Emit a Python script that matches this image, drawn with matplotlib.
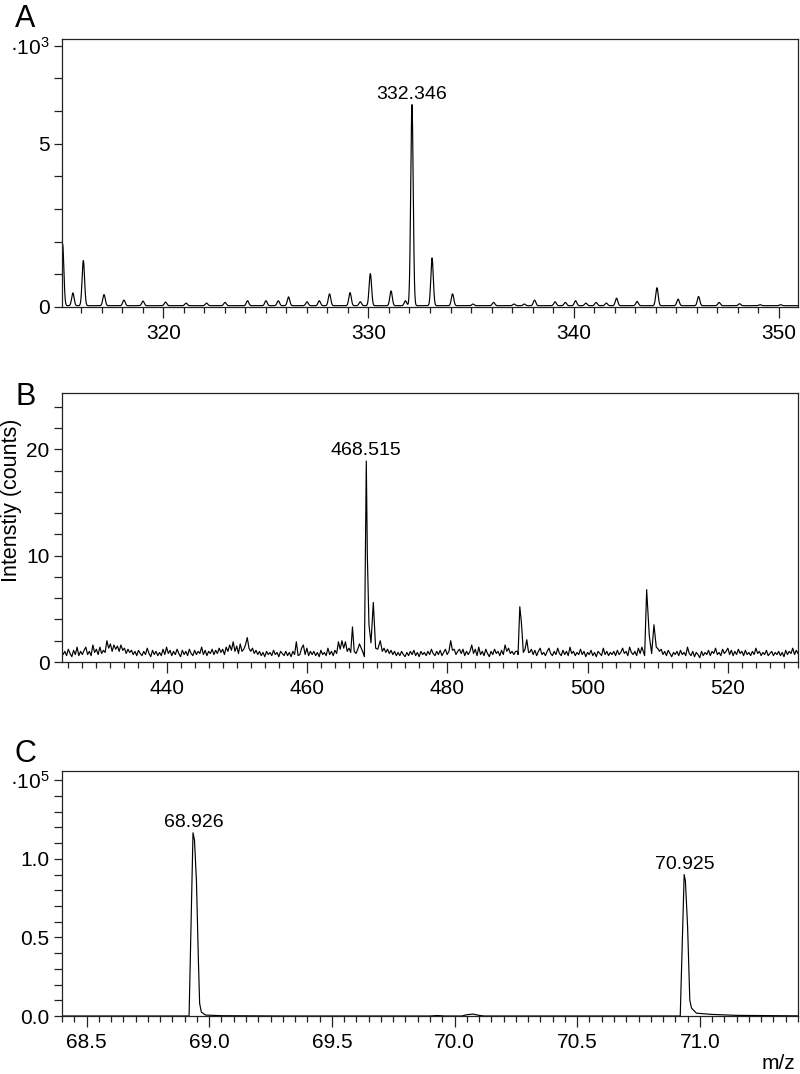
import numpy as np
import matplotlib
matplotlib.use("Agg")
import matplotlib.pyplot as plt
from matplotlib.ticker import MultipleLocator, FixedLocator, FixedFormatter

plt.rcParams['font.family'] = ['Liberation Sans', 'DejaVu Sans']
plt.rcParams['mathtext.fontset'] = 'custom'
plt.rcParams['mathtext.rm'] = 'Liberation Sans'
plt.rcParams['mathtext.it'] = 'Liberation Sans:italic'
plt.rcParams['mathtext.bf'] = 'Liberation Sans:bold'

# ---------------- Panel A data (intensity in units of 10^3 counts) ----------------
A_peak_mz = [315.08, 315.58, 316.09, 317.10, 318.07, 319.00, 320.10, 321.10, 322.10,
             323.00, 324.10, 325.00, 325.60, 326.10, 327.00, 327.60, 328.10, 329.10,
             329.60, 330.09, 331.10, 331.80, 332.12, 333.10, 334.10, 335.10, 336.10,
             337.10, 337.60, 338.10, 339.10, 339.60, 340.10, 340.60, 341.10, 341.60,
             342.10, 343.10, 344.07, 345.10, 346.10, 347.10, 348.10, 349.10, 350.10]
A_peak_int = [1.88, 0.39, 1.38, 0.34, 0.17, 0.14, 0.11, 0.08, 0.08,
              0.10, 0.15, 0.15, 0.15, 0.27, 0.12, 0.15, 0.36, 0.40,
              0.12, 0.98, 0.45, 0.15, 6.15, 1.46, 0.36, 0.05, 0.10,
              0.05, 0.05, 0.17, 0.12, 0.10, 0.15, 0.08, 0.10, 0.08,
              0.23, 0.13, 0.55, 0.20, 0.28, 0.10, 0.06, 0.03, 0.03]
A_baseline = 0.04
A_label_mz, A_label_int, A_label_text = 332.12, 6.15, "332.346"

# ---------------- Panel B data (counts) ----------------
# baseline noise read on a 0.25 m/z grid starting at 425
B_noise = [
    1.1, 0.7, 1.0, 0.6, 1.2, 0.8, 0.5, 1.1,   # 425
    0.7, 1.4, 0.6, 1.0, 0.7, 1.1, 1.4, 0.7,   # 427
    1.0, 0.6, 1.6, 0.9, 1.2, 0.7, 1.4, 0.8,   # 429
    1.1, 0.9, 2.0, 1.3, 1.7, 1.0, 1.6, 1.2,   # 431
    1.5, 1.0, 1.6, 1.1, 1.3, 0.8, 1.2, 0.9,   # 433
    1.1, 0.7, 1.0, 0.6, 1.1, 0.8, 0.6, 1.0,   # 435
    0.7, 1.3, 0.8, 0.5, 1.1, 0.7, 1.0, 0.6,   # 437
    0.9, 0.6, 1.2, 0.7, 1.4, 0.8, 1.1, 0.6,   # 439
    1.0, 0.7, 1.2, 0.8, 0.5, 1.1, 0.7, 1.0,   # 441
    0.6, 1.2, 0.8, 0.6, 1.1, 0.7, 1.0, 0.8,   # 443
    1.4, 0.7, 1.1, 0.6, 1.0, 0.8, 1.2, 0.7,   # 445
    1.1, 0.8, 1.3, 0.9, 1.2, 0.7, 1.4, 1.0,   # 447
    1.6, 1.1, 1.9, 1.0, 1.5, 0.8, 1.7, 1.0,   # 449
    1.2, 1.6, 2.3, 1.3, 1.0, 1.3, 0.8, 1.1,   # 451
    0.7, 1.0, 0.6, 0.9, 0.5, 1.0, 0.7, 0.9,   # 453
    0.6, 1.1, 0.7, 0.9, 0.5, 1.0, 0.8, 0.6,   # 455
    1.0, 0.6, 0.9, 0.5, 1.0, 0.7, 1.9, 0.6,   # 457
    0.7, 1.3, 1.6, 0.7, 1.3, 0.6, 1.0, 0.7,   # 459
    1.0, 0.6, 0.9, 0.5, 1.1, 0.7, 0.9, 0.6,   # 461
    1.3, 0.7, 1.0, 0.6, 1.1, 0.8, 1.9, 1.2,   # 463
    2.0, 1.3, 1.9, 1.0, 1.3, 0.9, 3.3, 1.0,   # 465
    0.8, 1.2, 1.7, 1.3, 0.9, 0.7, 1.0, 1.0,   # 467
    1.0, 1.0, 1.0, 1.0, 1.0, 1.0, 1.0, 1.2,   # 469
    1.3, 0.9, 1.2, 0.8, 1.1, 0.7, 1.0, 0.6,   # 471
    0.9, 0.6, 1.0, 0.7, 0.5, 0.9, 0.6, 1.0,   # 473
    0.7, 1.1, 0.6, 0.9, 0.5, 1.0, 0.7, 0.9,   # 475
    0.6, 1.0, 0.7, 1.2, 0.8, 0.6, 1.0, 0.7,   # 477
    1.1, 0.6, 0.9, 1.2, 0.7, 1.0, 2.0, 1.1,   # 479
    1.2, 0.7, 1.0, 1.2, 0.8, 1.2, 0.6, 1.0,   # 481
    0.7, 1.0, 1.6, 0.8, 1.2, 0.6, 1.4, 0.7,   # 483
    1.0, 0.6, 1.2, 0.8, 0.5, 1.0, 0.7, 1.2,   # 485
    0.8, 1.0, 0.6, 1.1, 0.7, 1.6, 1.0, 1.3,   # 487
    0.8, 1.0, 0.7, 1.0, 1.0, 1.0, 1.0, 1.0,   # 489
    1.0, 1.0, 1.0, 0.9, 1.2, 0.7, 1.1, 0.6,   # 491
    1.0, 1.3, 0.7, 0.9, 0.6, 1.0, 1.3, 0.8,   # 493
    0.6, 1.0, 0.7, 1.3, 0.8, 0.6, 1.1, 0.7,   # 495
    1.0, 0.6, 1.4, 0.8, 1.0, 0.6, 0.9, 0.7,   # 497
    1.2, 0.7, 1.0, 0.5, 0.9, 0.7, 1.1, 0.6,   # 499
    0.9, 0.5, 1.0, 0.8, 0.6, 1.3, 0.7, 1.0,   # 501
    0.6, 0.9, 0.7, 1.0, 0.6, 1.1, 0.7, 0.9,   # 503
    1.3, 0.8, 1.0, 0.6, 1.4, 0.9, 0.7, 1.0,   # 505
    0.6, 1.3, 0.8, 1.4, 0.9, 0.7, 1.0, 1.0,   # 507
    1.0, 1.0, 1.0, 1.0, 1.0, 1.0, 1.2, 0.7,   # 509
    1.0, 0.6, 1.1, 0.8, 0.5, 0.9, 0.7, 1.0,   # 511
    0.6, 1.1, 0.7, 0.9, 0.6, 1.4, 0.8, 0.6,   # 513
    1.0, 0.5, 0.9, 0.7, 0.4, 1.0, 0.6, 0.9,   # 515
    0.7, 1.1, 0.6, 1.0, 0.8, 1.3, 0.7, 0.9,   # 517
    0.6, 1.2, 0.8, 1.0, 1.3, 0.7, 1.1, 0.6,   # 519
    1.0, 0.7, 1.2, 0.8, 1.0, 0.6, 1.1, 0.7,   # 521
    0.9, 0.6, 1.0, 0.7, 1.3, 0.8, 1.0, 0.6,   # 523
    0.9, 0.7, 1.1, 0.6, 0.8, 1.0, 0.6, 0.9,   # 525
    0.7, 1.0, 0.6, 0.9, 0.5, 1.1, 0.7, 1.0,   # 527
    0.8, 1.3, 0.7, 1.1, 0.8,                  # 529
]
B_noise_start, B_noise_step = 425.0, 0.25

# peak clusters read as explicit vertices (m/z, counts)
B_c1_mz = [468.20, 468.47, 468.62, 468.85, 469.14, 469.47, 469.80, 470.10, 470.46, 470.75]
B_c1_int = [0.5, 18.9, 10.0, 3.5, 1.8, 5.6, 1.3, 1.2, 2.0, 1.0]
B_c2_mz = [490.10, 490.35, 490.55, 490.65, 490.85, 491.10, 491.34, 491.60]
B_c2_int = [0.7, 5.2, 3.9, 3.0, 0.9, 1.2, 2.1, 0.9]
B_c3_mz = [508.14, 508.43, 508.66, 508.80, 509.14, 509.47, 509.80, 510.10]
B_c3_int = [0.6, 6.8, 4.2, 2.5, 0.8, 3.5, 1.4, 1.2]
B_label_mz, B_label_int, B_label_text = 468.47, 18.9, "468.515"

# ---------------- Panel C data (units of 10^5 counts) ----------------
C_mz = [68.40, 68.918, 68.934, 68.940, 68.948, 68.956, 68.961, 68.968, 68.985, 69.05,
        69.30, 69.90, 69.93, 69.96, 70.03, 70.05, 70.075, 70.10, 70.12, 70.50,
        70.920, 70.936, 70.941, 70.950, 70.959, 70.966, 70.986, 71.05, 71.15, 71.40]
C_int = [0.0, 0.0, 1.166, 1.12, 0.86, 0.35, 0.08, 0.025, 0.006, 0.002,
         0.0, 0.0, 0.003, 0.0, 0.0, 0.008, 0.012, 0.004, 0.0, 0.0,
         0.0, 0.90, 0.86, 0.567, 0.10, 0.05, 0.018, 0.01, 0.004, 0.001]
C_labels_mz = [68.936, 70.938]
C_labels_int = [1.166, 0.90]
C_labels_text = ["68.926", "70.925"]

# ---------------- Build profiles ----------------
A_x = np.arange(315.0, 351.0, 0.005)
A_y = np.full_like(A_x, A_baseline)
for c, h in zip(A_peak_mz, A_peak_int):
    A_y += h * np.exp(-0.5 * ((A_x - c) / 0.06) ** 2)

B_x = B_noise_start + B_noise_step * np.arange(len(B_noise))
B_y = np.array(B_noise, dtype=float)
for cx, cy in [(B_c1_mz, B_c1_int), (B_c2_mz, B_c2_int), (B_c3_mz, B_c3_int)]:
    keep = (B_x < cx[0]) | (B_x > cx[-1])
    B_x = np.concatenate([B_x[keep], cx])
    B_y = np.concatenate([B_y[keep], cy])
order = np.argsort(B_x)
B_x, B_y = B_x[order], B_y[order]

# ---------------- Figure ----------------
W, H = 800, 1074
fig = plt.figure(figsize=(W / 100, H / 100), dpi=100)

def box(l, t, r, b):
    return [l / W, 1 - b / H, (r - l) / W, (b - t) / H]

axA = fig.add_axes(box(62, 39, 798, 307))
axB = fig.add_axes(box(62, 393, 798, 662))
axC = fig.add_axes(box(62, 771, 798, 1016))

TICK_FS = 15
LBL_FS = 14
SPINE_C = '#222222'

def style(ax):
    for s in ax.spines.values():
        s.set_color(SPINE_C)
        s.set_linewidth(0.9)
    ax.tick_params(axis='x', which='major', direction='out', length=8, width=0.9,
                   colors=SPINE_C, labelcolor='black', labelsize=TICK_FS, pad=4)
    ax.tick_params(axis='x', which='minor', direction='out', length=4.5, width=0.9,
                   colors=SPINE_C)
    ax.tick_params(axis='y', which='major', direction='out', length=6, width=0.9,
                   colors=SPINE_C, labelcolor='black', labelsize=TICK_FS, pad=3)
    ax.tick_params(axis='y', which='minor', direction='out', length=6, width=0.9,
                   colors=SPINE_C)

# Panel A
axA.plot(A_x, A_y, color='black', lw=0.85)
axA.set_xlim(315.05, 350.95)
axA.set_ylim(0, 8.2)
axA.xaxis.set_major_locator(MultipleLocator(10))
axA.xaxis.set_minor_locator(MultipleLocator(1))
axA.yaxis.set_major_locator(FixedLocator([0, 5, 8]))
axA.yaxis.set_major_formatter(FixedFormatter(['0', '5', '·10$^{3}$']))
axA.yaxis.set_minor_locator(MultipleLocator(1))
style(axA)
axA.annotate(A_label_text, (A_label_mz, A_label_int), xytext=(0, 5),
             textcoords='offset points', ha='center', va='baseline', fontsize=LBL_FS)

# Panel B
axB.plot(B_x, B_y, color='black', lw=0.85)
axB.set_xlim(425.1, 530.0)
axB.set_ylim(0, 25.3)
axB.xaxis.set_major_locator(MultipleLocator(20))
axB.xaxis.set_minor_locator(MultipleLocator(2))
axB.yaxis.set_major_locator(MultipleLocator(10))
axB.yaxis.set_minor_locator(MultipleLocator(2))
style(axB)
axB.annotate(B_label_text, (B_label_mz, B_label_int), xytext=(0, 4),
             textcoords='offset points', ha='center', va='baseline', fontsize=LBL_FS)

# Panel C
axC.plot(C_mz, C_int, color='black', lw=0.85)
axC.set_xlim(68.4, 71.4)
axC.set_ylim(0, 1.559)
axC.xaxis.set_major_locator(MultipleLocator(0.5))
axC.xaxis.set_minor_locator(MultipleLocator(0.05))
axC.xaxis.set_major_formatter(matplotlib.ticker.FormatStrFormatter('%.1f'))
axC.yaxis.set_major_locator(FixedLocator([0.0, 0.5, 1.0, 1.5]))
axC.yaxis.set_major_formatter(FixedFormatter(['0.0', '0.5', '1.0', '·10$^{5}$']))
axC.yaxis.set_minor_locator(MultipleLocator(0.1))
style(axC)
for x, y, t in zip(C_labels_mz, C_labels_int, C_labels_text):
    axC.annotate(t, (x, y), xytext=(0, 4), textcoords='offset points',
                 ha='center', va='baseline', fontsize=LBL_FS)

# Panel letters and axis titles
fig.text(15 / W, 1 - 27 / H, 'A', fontsize=22, ha='left', va='baseline')
fig.text(16 / W, 1 - 405 / H, 'B', fontsize=22, ha='left', va='baseline')
fig.text(15 / W, 1 - 762 / H, 'C', fontsize=22, ha='left', va='baseline')
fig.text(12 / W, 1 - 500 / H, 'Intenstiy (counts)', rotation=90, fontsize=15.5,
         ha='center', va='center')
fig.text(795 / W, 1 - 1069 / H, 'm/z', fontsize=15, ha='right', va='baseline')

fig.savefig('out.png', dpi=100)
